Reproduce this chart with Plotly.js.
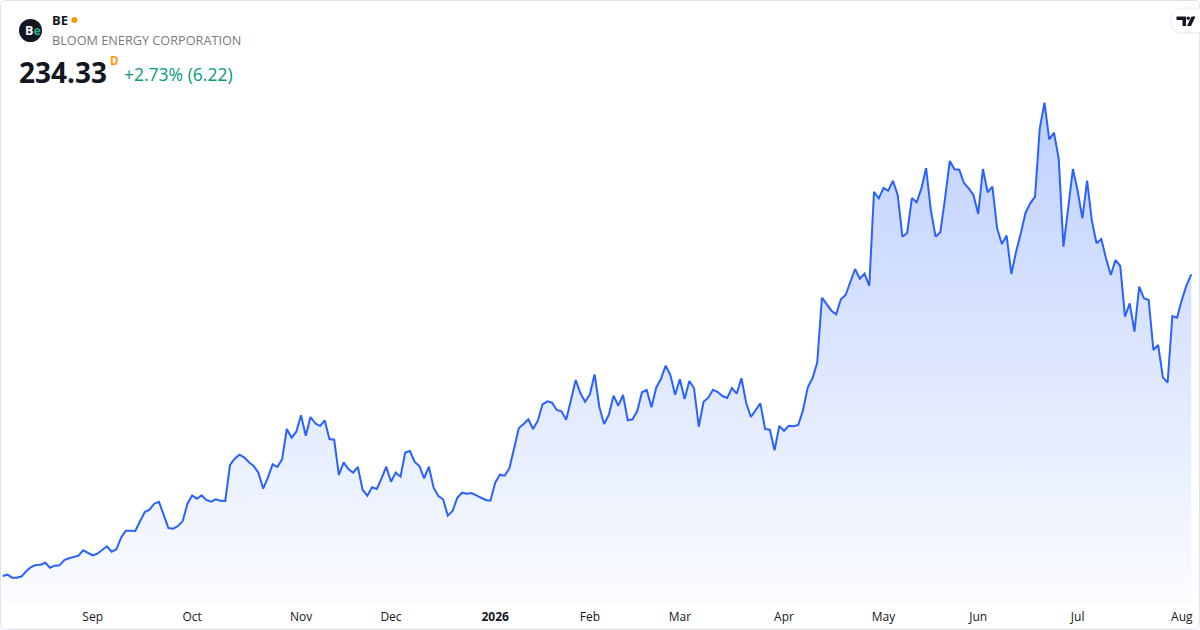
<!DOCTYPE html>
<html>
<head>
<meta charset="utf-8">
<script src="https://cdn.plot.ly/plotly-3.0.1.min.js"></script>
<style>
  html, body { margin: 0; padding: 0; background: #ffffff; }
  #be-chart { width: 1200px; height: 630px; }
</style>
</head>
<body>
<div id="be-chart"></div>
<script>
// daily closes, one per trading day, Aug 5 2025 .. Aug 5 2026
const closes = [
  59.04, 59.80, 58.06, 58.10, 58.87, 61.95, 64.27, 65.43, 65.61, 66.77,
  63.87, 65.03, 65.26, 68.34, 69.33, 69.91, 70.84, 73.98, 72.41, 71.07,
  72.00, 74.32, 76.30, 73.16, 74.56, 81.30, 85.36, 85.40, 85.19, 90.82,
  96.23, 97.56, 101.05, 102.21, 94.66, 86.93, 86.53, 88.09, 90.80, 100.88,
  105.81, 103.96, 105.93, 103.20, 102.21, 103.61, 102.79, 102.70, 123.53, 127.20,
  129.52, 128.01, 125.10, 122.95, 119.06, 109.77, 116.16, 123.94, 122.37, 126.85,
  144.45, 139.40, 142.88, 152.41, 140.56, 151.42, 147.76, 146.19, 149.51, 138.64,
  138.23, 117.72, 125.10, 121.21, 119.06, 122.37, 109.18, 105.70, 110.58, 109.59,
  115.81, 122.55, 113.83, 119.10, 116.74, 130.80, 131.67, 125.28, 122.95, 115.81,
  122.55, 110.35, 105.52, 103.61, 94.08, 96.81, 104.54, 107.44, 106.86, 107.27,
  105.93, 104.36, 103.20, 102.79, 113.25, 117.90, 117.32, 121.62, 133.24, 145.03,
  147.36, 150.09, 144.45, 149.27, 158.80, 160.54, 159.73, 155.49, 154.73, 149.85,
  161.30, 172.92, 165.19, 160.31, 164.61, 176.23, 157.23, 147.36, 152.70, 163.80,
  157.99, 164.20, 149.51, 150.09, 154.91, 165.77, 167.11, 157.06, 168.45, 173.50,
  181.23, 175.82, 164.38, 173.40, 161.88, 172.34, 168.10, 145.79, 160.31, 162.64,
  167.28, 165.95, 163.62, 162.50, 168.20, 164.96, 173.91, 159.73, 151.42, 155.32,
  159.38, 144.45, 144.04, 132.08, 146.19, 143.46, 146.37, 146.02, 146.77, 155.32,
  168.56, 173.91, 182.97, 220.74, 216.67, 213.18, 211.09, 219.81, 222.30, 230.26,
  237.41, 231.78, 234.68, 227.53, 282.32, 278.49, 284.47, 282.90, 288.71, 280.40,
  256.18, 258.33, 278.66, 276.16, 284.07, 296.09, 271.69, 256.20, 258.73, 278.49,
  300.16, 295.34, 295.10, 287.38, 284.30, 280.40, 269.37, 295.51, 281.97, 285.23,
  260.94, 251.94, 256.87, 234.51, 247.46, 258.15, 270.12, 275.58, 279.42, 319.16,
  334.03, 312.77, 316.60, 301.73, 250.37, 272.68, 295.51, 282.90, 266.87, 288.71,
  265.47, 252.34, 254.84, 243.63, 233.92, 242.64, 239.15, 209.70, 217.48, 200.98,
  227.13, 220.39, 219.40, 190.35, 193.25, 174.49, 171.35, 210.10, 209.12, 219.50,
  228.11, 234.33
];
const dayIdx = closes.map((_, i) => i);

// first trading day of each month, as an index into closes
const monthTickIdx = [19, 40, 63, 82, 104, 124, 143, 165, 186, 206, 227, 249];
const monthTickText = ['Sep', 'Oct', 'Nov', 'Dec', '<b>2026</b>', 'Feb', 'Mar', 'Apr', 'May', 'Jun', 'Jul', 'Aug'];

const symbol = 'BE';
const companyName = 'BLOOM ENERGY CORPORATION';
const lastPrice = '234.33';
const dayChange = '+2.73% (6.22)';

const W = 1200, PLOT_H = 603;
const px = x => x / W;
const py = y => 1 - y / PLOT_H;

const FONT = 'Open Sans, Roboto, sans-serif';

const trace = {
  x: dayIdx,
  y: closes,
  type: 'scatter',
  mode: 'lines',
  line: { color: '#2962ff', width: 2 },
  fill: 'tozeroy',
  fillgradient: {
    type: 'vertical',
    start: 43,
    stop: 334,
    colorscale: [[0, 'rgba(41,98,255,0.02)'], [1, 'rgba(41,98,255,0.30)']]
  },
  hoverinfo: 'skip'
};

const txt = (x, y, text, size, color, extra) => Object.assign({
  xref: 'paper', yref: 'paper', x: px(x), y: py(y),
  xanchor: 'left', yanchor: 'middle', showarrow: false,
  text: text, font: { family: FONT, size: size, color: color }
}, extra || {});

const layout = {
  width: 1200,
  height: 630,
  margin: { l: 0, r: 0, t: 0, b: 27 },
  paper_bgcolor: '#ffffff',
  plot_bgcolor: '#ffffff',
  showlegend: false,
  xaxis: {
    range: [-0.57, 252.84],
    tickmode: 'array',
    tickvals: monthTickIdx,
    ticktext: monthTickText,
    ticks: '',
    ticklabelstandoff: 5,
    showgrid: false,
    zeroline: false,
    showline: false,
    tickfont: { family: FONT, size: 12, color: '#131722' }
  },
  yaxis: {
    range: [43.36, 393.7],
    showgrid: false,
    zeroline: false,
    showticklabels: false,
    ticks: ''
  },
  shapes: [
    // card border
    { type: 'path', xref: 'paper', yref: 'paper',
      path: `M ${px(6)},${py(0.5)} L ${px(1194)},${py(0.5)} Q ${px(1199.5)},${py(0.5)} ${px(1199.5)},${py(6)} ` +
            `L ${px(1199.5)},${py(624)} Q ${px(1199.5)},${py(629.5)} ${px(1194)},${py(629.5)} ` +
            `L ${px(6)},${py(629.5)} Q ${px(0.5)},${py(629.5)} ${px(0.5)},${py(624)} ` +
            `L ${px(0.5)},${py(6)} Q ${px(0.5)},${py(0.5)} ${px(6)},${py(0.5)} Z`,
      line: { color: '#e0e3eb', width: 1 }, fillcolor: 'rgba(0,0,0,0)' },
    // logo disc
    { type: 'circle', xref: 'paper', yref: 'paper',
      x0: px(19), x1: px(42), y0: py(19), y1: py(42),
      fillcolor: '#131722', line: { width: 0 } },
    // live dot
    { type: 'circle', xref: 'paper', yref: 'paper',
      x0: px(71.5), x1: px(77.5), y0: py(17), y1: py(23),
      fillcolor: '#ff9800', line: { width: 0 } },
    // TradingView badge
    { type: 'path', xref: 'paper', yref: 'paper',
      path: `M ${px(1183)},${py(9)} L ${px(1201)},${py(9)} L ${px(1201)},${py(34)} L ${px(1183)},${py(34)} ` +
            `Q ${px(1170)},${py(34)} ${px(1170)},${py(21.5)} Q ${px(1170)},${py(9)} ${px(1183)},${py(9)} Z`,
      fillcolor: 'rgba(19,23,34,0.05)', line: { width: 0 } },
    { type: 'path', xref: 'paper', yref: 'paper',
      path: `M ${px(1183)},${py(8)} L ${px(1201)},${py(8)} L ${px(1201)},${py(32.5)} L ${px(1183)},${py(32.5)} ` +
            `Q ${px(1170.5)},${py(32.5)} ${px(1170.5)},${py(20.25)} Q ${px(1170.5)},${py(8)} ${px(1183)},${py(8)} Z`,
      fillcolor: '#ffffff', line: { color: '#eceef2', width: 1 } },
    { type: 'path', xref: 'paper', yref: 'paper',
      path: `M ${px(1176.5)},${py(16.5)} L ${px(1186)},${py(16.5)} L ${px(1186)},${py(26)} L ${px(1182.5)},${py(26)} ` +
            `L ${px(1182.5)},${py(20)} L ${px(1176.5)},${py(20)} Z`,
      fillcolor: '#131722', line: { width: 0 } },
    { type: 'circle', xref: 'paper', yref: 'paper',
      x0: px(1186.5), x1: px(1190), y0: py(16.5), y1: py(20),
      fillcolor: '#131722', line: { width: 0 } },
    { type: 'path', xref: 'paper', yref: 'paper',
      path: `M ${px(1191.5)},${py(16.5)} L ${px(1195.5)},${py(16.5)} L ${px(1191)},${py(26)} L ${px(1187)},${py(26)} Z`,
      fillcolor: '#131722', line: { width: 0 } }
  ],
  annotations: [
    txt(23, 31, '<b>B<span style="color:#22ab94">e</span></b>', 12.5, '#ffffff'),
    txt(50, 20, '<b>' + symbol + '</b>', 13, '#131722'),
    txt(50, 40.5, companyName, 12.7, '#787b86'),
    txt(17, 72, '<b>' + lastPrice + '</b>', 28, '#131722'),
    txt(107.5, 61, '<b>D</b>', 11.5, '#ff9800'),
    txt(122, 74, dayChange, 17.5, '#089981')
  ]
};

Plotly.newPlot('be-chart', [trace], layout, { staticPlot: true, displayModeBar: false });
</script>
</body>
</html>
